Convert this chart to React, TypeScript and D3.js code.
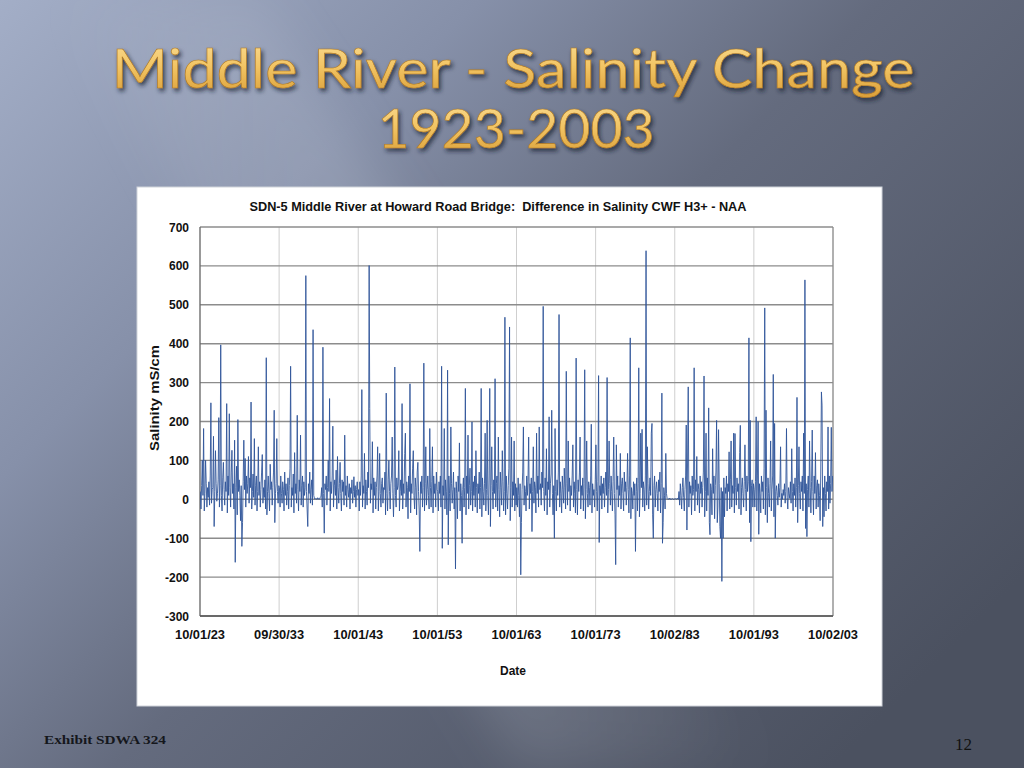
import React from "react";
import * as d3 from "d3";

// ---- Data: monthly readings (Oct..Sep water years) ----
const decade1923 = [
  20,-25,35,100,10,182,-30,15,100,40,-20,30,
  5,45,-15,60,248,-10,25,30,162,-70,20,125,
  40,-5,15,50,210,-20,35,397,10,-30,55,95,
  25,-15,45,20,246,-35,60,10,220,30,-20,70,
  126,15,40,-25,152,-162,30,85,-40,205,20,50,
  10,-55,35,-121,-60,45,152,25,105,-20,60,15,
  40,110,-10,55,30,250,-25,20,65,5,156,-15,
  35,60,-30,20,135,10,45,-20,25,70,115,-10,
  30,5,50,-25,364,-40,20,60,15,-30,90,25,
  45,-15,30,70,229,-60,15,40,156,20,-10,35,
];
const decade1933 = [
  30,-20,60,15,-10,45,25,-30,70,10,40,-15,
  20,55,-25,35,80,342,-20,30,10,65,-35,120,
  15,40,-10,216,25,-30,50,20,165,-15,35,60,
  -20,45,10,30,575,20,-25,-70,40,15,70,-10,
  25,50,-15,436,10,3,0,2,1,0,4,0,
  2,0,5,8,30,-20,391,15,-87,40,25,60,
  -15,30,100,20,259,-30,45,15,60,188,-20,35,
  50,10,75,-25,110,30,-10,40,95,15,-30,50,
  20,45,-15,165,10,35,-20,60,25,5,40,-25,
  30,15,50,-10,20,58,5,35,-20,25,45,10,
];
const decade1943 = [
  25,-30,45,10,60,282,-20,35,15,118,-25,50,
  20,-15,70,30,601,233,-10,40,25,148,-35,55,
  10,45,-25,30,60,135,-30,20,118,15,-20,40,
  55,-10,30,25,70,-40,273,15,-30,50,100,20,
  -25,40,60,160,15,-45,30,340,10,-20,55,25,
  35,125,-30,20,50,10,246,-25,40,15,118,170,
  -20,45,30,-50,60,20,297,-35,40,15,80,125,
  10,-25,55,30,-40,70,95,20,-30,-134,45,15,
  60,-20,30,350,-30,40,135,-15,25,60,10,-25,
  182,30,-20,45,135,-35,60,15,40,-20,70,25,
];
const decade1953 = [
  20,-30,45,15,60,-20,342,-126,35,10,182,-25,
  50,20,-40,332,-117,60,15,-30,186,40,-10,25,
  70,-25,30,-179,45,15,-50,60,20,145,-30,40,
  10,-113,25,55,-20,30,285,-40,60,15,165,-25,
  35,80,-15,20,199,-30,45,10,60,-20,125,30,
  -35,40,15,70,-25,30,285,-45,55,20,-15,40,
  170,-30,25,203,10,-40,60,285,-70,35,135,20,
  -25,50,15,310,-20,40,60,-30,160,25,-45,70,
  30,-15,125,45,-30,20,468,-40,60,15,-25,35,
  80,443,-55,30,160,-20,45,10,150,-30,40,-15,
];
const decade1963 = [
  30,-20,55,10,-45,40,-194,-60,25,70,186,-15,
  35,20,-30,60,10,45,160,-25,40,15,55,-83,
  20,135,-10,45,30,-35,170,15,60,-20,186,25,
  40,-15,70,30,496,20,-30,55,10,130,-40,45,
  25,212,-20,40,65,229,15,-40,35,-100,182,20,
  -30,50,10,70,475,-20,45,15,-35,60,25,-10,
  80,30,-25,329,40,-15,150,20,55,-30,35,10,
  60,140,-20,45,15,-35,363,25,-40,50,20,70,
  160,-25,35,10,55,-30,40,333,-50,25,150,15,
  -20,45,30,-15,60,193,-35,40,10,25,-20,50,
];
const decade1973 = [
  140,20,-30,45,318,-111,35,10,60,-25,40,15,
  55,-20,30,70,10,313,-35,25,150,40,-15,60,
  20,-30,45,160,15,-40,-168,140,25,60,-20,35,
  10,118,-25,40,55,15,-30,70,20,45,-15,30,
  118,25,-35,60,415,-50,30,15,-25,45,10,40,
  -134,20,55,-30,40,338,-45,15,170,30,180,-20,
  45,25,-30,60,639,-15,135,40,-25,20,55,10,
  170,195,-40,-100,35,60,-20,25,45,15,-30,50,
  20,70,-35,40,273,-113,-60,30,10,-25,118,15,
  2,0,1,0,3,0,1,0,2,0,0,1,
];
const decade1983 = [
  0,2,0,1,3,0,20,-15,40,10,-25,30,
  55,5,-30,25,60,191,-79,100,289,-20,45,15,
  35,-40,60,10,25,338,-30,50,20,110,-15,40,
  25,-35,60,15,45,-20,30,70,317,-45,20,170,
  -30,55,10,235,-60,-91,40,25,-40,130,15,60,
  -50,35,70,203,-60,-20,179,40,-70,-100,30,-211,
  20,-100,55,-45,30,15,60,-30,40,20,122,-25,
  50,150,-20,35,15,170,-35,169,30,-15,55,20,
  40,-25,120,190,-40,30,55,15,-20,45,140,25,
  -30,60,20,45,415,-60,203,-109,35,50,-20,40,
];
const decade1993 = [
  25,-20,45,212,-30,60,200,-90,40,15,-35,60,
  20,45,-25,80,492,-40,229,30,-60,55,15,-20,
  40,150,-30,25,60,321,-45,195,-100,20,35,10,
  -15,40,5,30,135,-20,15,0,25,10,40,-10,
  20,182,5,-25,30,15,2,45,-10,130,20,-30,
  40,10,55,-20,30,262,-60,35,135,15,-25,45,
  20,60,-30,170,15,564,-75,40,-96,25,60,-20,
  150,30,-35,45,178,20,-40,60,15,120,-25,35,
  50,-20,40,10,-55,65,276,242,-70,30,-45,60,
  15,-30,45,20,186,-25,60,-10,40,185,20,60,
];

const yTicks = [700, 600, 500, 400, 300, 200, 100, 0, -100, -200, -300];
const xTickDates = ["1923-10-01","1933-09-30","1943-10-01","1953-10-01","1963-10-01","1973-10-01","1983-10-02","1993-10-01","2003-10-02"];
const xTickLabels = ["10/01/23","09/30/33","10/01/43","10/01/53","10/01/63","10/01/73","10/02/83","10/01/93","10/02/03"];

const chartTitle = "SDN-5 Middle River at Howard Road Bridge:  Difference in Salinity CWF H3+ - NAA";
const slideTitle1 = "Middle River - Salinity Change";
const slideTitle2 = "1923-2003";

const allValues = [
  ...decade1923, ...decade1933, ...decade1943, ...decade1953,
  ...decade1963, ...decade1973, ...decade1983, ...decade1993,
];

const parseIso = d3.timeParse("%Y-%m-%d");
const startDate = new Date(1923, 9, 1);
const series = allValues.map((v, i) => ({ date: d3.timeDay.offset(d3.timeMonth.offset(startDate, i), 14), v }));

export default function App() {
  const left = 200, right = 833, top = 227, bottom = 616;
  const x = d3.scaleTime().domain([parseIso("1923-10-01")!, parseIso("2003-10-02")!]).range([left, right]);
  const y = d3.scaleLinear().domain([-300, 700]).range([bottom, top]);
  const line = d3.line<{ date: Date; v: number }>().x(d => x(d.date)).y(d => y(d.v));
  const font = "'Liberation Sans', Arial, sans-serif";

  return (
    <svg width={1024} height={768} style={{ position: "fixed", left: 0, top: 0, display: "block" }}>
      <defs>
        <linearGradient id="bg" x1="0" y1="0" x2="1" y2="0.75">
          <stop offset="0" stopColor="#a3aec7" />
          <stop offset="0.3" stopColor="#8690a9" />
          <stop offset="0.55" stopColor="#646b7e" />
          <stop offset="1" stopColor="#4b5160" />
        </linearGradient>
        <linearGradient id="streak" x1="0" y1="0" x2="1" y2="0">
          <stop offset="0" stopColor="#ffffff" stopOpacity="0" />
          <stop offset="0.5" stopColor="#c8d0e2" stopOpacity="0.22" />
          <stop offset="1" stopColor="#ffffff" stopOpacity="0" />
        </linearGradient>
        <linearGradient id="gold" x1="0" y1="0" x2="0" y2="1">
          <stop offset="0" stopColor="#fbe09a" />
          <stop offset="0.5" stopColor="#f2c463" />
          <stop offset="1" stopColor="#d89c35" />
        </linearGradient>
        <filter id="shadow" x="-10%" y="-20%" width="120%" height="160%">
          <feDropShadow dx="2" dy="3" stdDeviation="2" floodColor="#1e2230" floodOpacity="0.75" />
        </filter>
        <filter id="blur"><feGaussianBlur stdDeviation="25" /></filter>
        <clipPath id="plotClip"><rect x={left} y={top} width={right - left} height={bottom - top} /></clipPath>
      </defs>

      <rect x={0} y={0} width={1024} height={768} fill="url(#bg)" />
      <polygon points="60,0 260,0 760,768 520,768" fill="url(#streak)" filter="url(#blur)" />

      <text x={513} y={88} textAnchor="middle" fontFamily="Lato, 'Open Sans', sans-serif" fontSize={55}
        fill="url(#gold)" stroke="#b07a25" strokeWidth={0.6} filter="url(#shadow)"
        textLength={803} lengthAdjust="spacingAndGlyphs">{slideTitle1}</text>
      <text x={516} y={148} textAnchor="middle" fontFamily="Lato, 'Open Sans', sans-serif" fontSize={55}
        fill="url(#gold)" stroke="#b07a25" strokeWidth={0.6} filter="url(#shadow)"
        textLength={277} lengthAdjust="spacingAndGlyphs">{slideTitle2}</text>

      <rect x={137} y={187} width={745} height={519} fill="#ffffff" stroke="#d0d3da" strokeWidth={1} />

      <text x={498} y={211} textAnchor="middle" fontFamily={font} fontWeight="bold" fontSize={12.5}
        fill="#111" style={{ whiteSpace: "pre" }} textLength={497} lengthAdjust="spacingAndGlyphs">{chartTitle}</text>

      {xTickDates.map((d, i) => (
        <line key={"vx" + i} x1={x(parseIso(d)!)} x2={x(parseIso(d)!)} y1={top} y2={bottom} stroke="#cfcfcf" strokeWidth={1} />
      ))}
      {yTicks.map(t => (
        <line key={"gy" + t} x1={left} x2={right} y1={y(t)} y2={y(t)} stroke="#8c8c8c" strokeWidth={1.4} />
      ))}
      <line x1={right} x2={right} y1={top} y2={bottom} stroke="#8c8c8c" strokeWidth={1.2} />
      <line x1={left} x2={left} y1={top} y2={bottom} stroke="#666" strokeWidth={1.2} />
      <line x1={left} x2={right} y1={bottom} y2={bottom} stroke="#555" strokeWidth={1.4} />

      <g clipPath="url(#plotClip)">
        <path d={line(series) || ""} fill="none" stroke="#2d5399" strokeWidth={1} strokeOpacity={0.88} strokeLinejoin="miter" />
      </g>

      {yTicks.map(t => (
        <text key={"ty" + t} x={189} y={y(t) + 4.5} textAnchor="end" fontFamily={font} fontWeight="bold" fontSize={12} fill="#111">{t}</text>
      ))}
      {xTickDates.map((d, i) => (
        <text key={"tx" + i} x={x(parseIso(d)!)} y={639} textAnchor="middle" fontFamily={font} fontWeight="bold" fontSize={12} fill="#111"
          textLength={50} lengthAdjust="spacingAndGlyphs">{xTickLabels[i]}</text>
      ))}
      <text x={513} y={675} textAnchor="middle" fontFamily={font} fontWeight="bold" fontSize={12} fill="#111">Date</text>
      <text transform="translate(159,398) rotate(-90)" textAnchor="middle" fontFamily={font} fontWeight="bold" fontSize={12.5} fill="#111"
        textLength={106} lengthAdjust="spacingAndGlyphs">Salinity mS/cm</text>

      <text x={44} y={744} fontFamily="'Liberation Serif', 'Times New Roman', serif" fontWeight="bold" fontSize={13} fill="#15171c"
        textLength={122} lengthAdjust="spacingAndGlyphs">Exhibit SDWA 324</text>
      <text x={955} y={750} fontFamily="'Liberation Serif', 'Times New Roman', serif" fontSize={17} fill="#111">12</text>
    </svg>
  );
}
